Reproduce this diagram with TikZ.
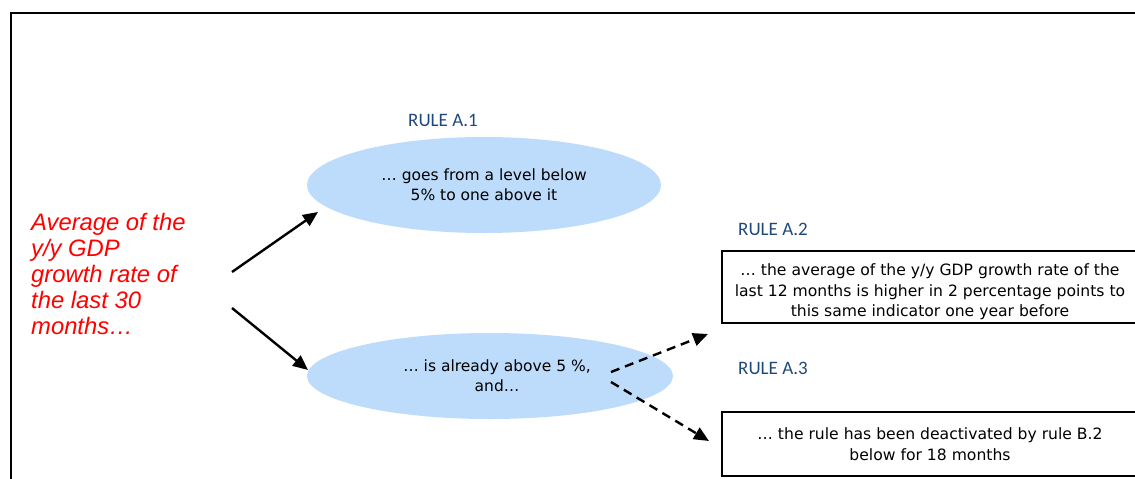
\documentclass[tikz,border=0pt]{standalone}
\usepackage{fontspec}
\setmainfont{DejaVu Sans}
\newfontfamily\rulefont{Carlito}
\newfontfamily\avgfont{Liberation Sans}
\usetikzlibrary{shapes.geometric,arrows.meta}
\definecolor{condblue}{RGB}{189,220,251}
\definecolor{rulename}{RGB}{31,73,125}
\definecolor{avgred}{RGB}{255,0,0}
\tikzstyle{cond}=[ellipse,fill=condblue,inner sep=0pt,align=center,font=\fontsize{15.5}{20}\selectfont]
\tikzstyle{rulebox}=[rectangle,draw=black,line width=1.6pt,inner sep=0pt,align=center,minimum width=416pt,font=\fontsize{15.6}{20.5}\selectfont]
\tikzstyle{rulelabel}=[text=rulename,inner sep=0pt,font=\rulefont\fontsize{19}{22}\selectfont]
\tikzstyle{load}=[line width=2.4pt,-{Triangle[length=15pt,width=13pt]}]
\tikzstyle{maybe}=[line width=2.4pt,dash pattern=on 9pt off 6pt,-{Triangle[length=15pt,width=13pt]}]

\begin{document}
\begin{tikzpicture}[x=1pt,y=-1pt]
	\useasboundingbox (0,0) rectangle (1135,479);
	\fill[white] (0,0) rectangle (1135,479);
	\begin{scope}
	\clip (0,0) rectangle (1135,479);
	\draw[line width=2pt] (11,490) -- (11,13) -- (1150,13);

	% what the average does
	\node[text=avgred,anchor=north west,inner sep=0pt,align=left,font=\avgfont\itshape\fontsize{23.8}{26}\selectfont] (avg) at (31,213)
		{Average of the\\y/y GDP\\growth rate of\\the last 30\\months\ldots};

	\node[cond,minimum width=354pt,minimum height=96pt] (e1) at (484,185) {\ldots{} goes from a level below\\5\% to one above it};
	\node[cond,minimum width=366pt,minimum height=86pt] (e2) at (490,376) {\hspace*{14pt}\ldots{} is already above 5 \%,\\\hspace*{14pt}and\ldots};

	\node[rulelabel] (r1) at (443,120) {RULE A.1};
	\node[rulelabel] (r2) at (773,229) {RULE A.2};
	\node[rulelabel] (r3) at (773,368) {RULE A.3};

	\node[rulebox,minimum height=72pt] (b2) at (930,287)
		{\rule{0pt}{22pt}\ldots{} the average of the y/y GDP growth rate of the\\last 12 months is higher in 2 percentage points to\\this same indicator one year before};
	\node[rulebox,minimum height=64pt] (b3) at (930,444)
		{\ldots{} the rule has been deactivated by rule B.2\\below for 18 months};

	\coordinate (s1) at (232,272);
	\coordinate (t1) at (318,212);
	\coordinate (s2) at (232,308);
	\coordinate (t2) at (308,370);
	\coordinate (s3) at (611,372);
	\coordinate (t3) at (708,334);
	\coordinate (s4) at (611,382);
	\coordinate (t4) at (709,441);

	\draw[load] (s1) -- (t1);
	\draw[load] (s2) -- (t2);
	\draw[maybe] (s3) -- (t3);
	\draw[maybe] (s4) -- (t4);
	\end{scope}
\end{tikzpicture}
\end{document}
